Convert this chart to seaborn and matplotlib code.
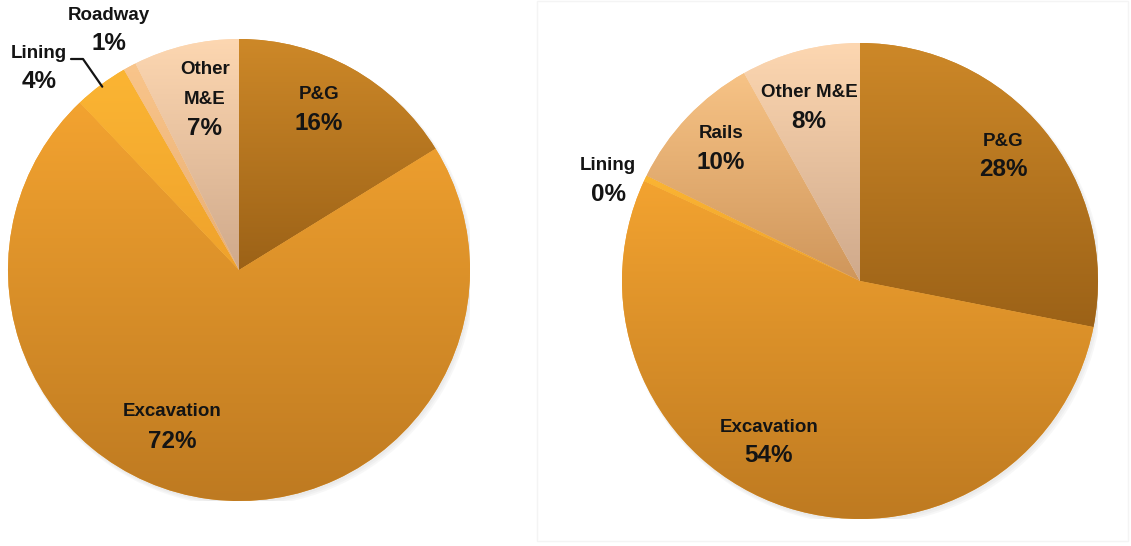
import numpy as np
import matplotlib
matplotlib.use("Agg")
import matplotlib.pyplot as plt
import seaborn as sns
from matplotlib.colors import LinearSegmentedColormap
from matplotlib.patches import Rectangle, Circle
from matplotlib.lines import Line2D

# ---- data -------------------------------------------------------------
left_categories = ["P&G", "Excavation", "Lining", "Roadway", "Other\nM&E"]
left_values = [16.2, 71.7, 3.8, 0.9, 7.4]

right_categories = ["P&G", "Excavation", "Lining", "Rails", "Other M&E"]
right_values = [28.1, 53.8, 0.4, 9.6, 8.1]

# ---- styling ----------------------------------------------------------
sns.set_theme(style="white")
plt.rcParams["font.family"] = ["Liberation Sans", "DejaVu Sans"]

W, H = 1131, 546
# per-slice vertical shading (top colour, bottom colour)
shades = {
    "P&G": ("#CD8828", "#9C6217"),
    "Excavation": ("#F3A330", "#BE7A21"),
    "Lining": ("#FBB533", "#EFA22C"),
    "Roadway": ("#F9C58B", "#E9AE72"),
    "Rails": ("#F7C386", "#CF965B"),
    "Other M&E": ("#FDD7B1", "#CFA98B"),
}
shades["Other\nM&E"] = shades["Other M&E"]

# label anchors in pixels (x centre, y of first line)
left_label_pos = [(319, 94), (172, 412), (39, 53), (109, 15), (205, 70)]
right_label_pos = [(1003, 141), (769, 427), (608, 165), (721, 133), (809, 92)]
LINE_STEP = 29

fig = plt.figure(figsize=(W / 100, H / 100), dpi=100)


def pie_axes(cx, cy, r):
    ax = fig.add_axes([(cx - r) / W, (H - cy - r) / H, 2 * r / W, 2 * r / H])
    return ax


def draw_pie(ax, values, names):
    # soft drop shadow beneath the disc
    for k, a in enumerate([0.05, 0.05, 0.06]):
        ax.add_patch(Circle((0.006 + 0.003 * k, -0.010 - 0.003 * k), 1.0 + 0.004 * k,
                            color="#808080", alpha=a, lw=0, zorder=0))
    palette = sns.color_palette([shades[n][0] for n in names])
    wedges, _ = ax.pie(values, colors=palette, startangle=90, counterclock=False,
                       radius=1.0, wedgeprops=dict(linewidth=0, edgecolor="none"))
    for w, n in zip(wedges, names):
        w.set_zorder(1)
        top, bot = shades[n]
        cmap = LinearSegmentedColormap.from_list("s", [top, bot])
        ext = w.get_path().get_extents()
        grad = np.linspace(0, 1, 256).reshape(-1, 1)
        im = ax.imshow(grad, cmap=cmap, origin="upper", aspect="auto",
                       extent=[ext.x0, ext.x1, ext.y0, ext.y1], zorder=2,
                       interpolation="bilinear")
        im.set_clip_path(w)
    ax.set_xlim(-1, 1)
    ax.set_ylim(-1, 1)
    ax.set_axis_off()
    return wedges


def draw_labels(names, values, positions):
    for n, v, (x, y) in zip(names, values, positions):
        lines = n.split("\n")
        for i, line in enumerate(lines):
            fig.text(x / W, 1 - (y + i * LINE_STEP) / H, line, ha="center", va="center",
                     fontsize=13.5, fontweight="bold", color="#141414")
        fig.text(x / W, 1 - (y + len(lines) * LINE_STEP) / H, f"{round(v):.0f}%",
                 ha="center", va="center", fontsize=17.5, fontweight="bold",
                 color="#141414")


# left pie
axL = pie_axes(239, 270, 231)
wl = draw_pie(axL, left_values, left_categories)
draw_labels(left_categories, left_values, left_label_pos)

# right pie
axR = pie_axes(860, 281, 238)
wr = draw_pie(axR, right_values, right_categories)
draw_labels(right_categories, right_values, right_label_pos)

# leader line from the "Lining" label to its slice on the left pie
lin = wl[2]
mid = np.deg2rad((lin.theta1 + lin.theta2) / 2)
edge = axL.transData.transform((0.99 * np.cos(mid), 0.99 * np.sin(mid)))
ex, ey = fig.transFigure.inverted().transform(edge)
fig.add_artist(Line2D([71 / W, 83 / W, ex], [1 - 59 / H, 1 - 59 / H, ey],
                      transform=fig.transFigure, color="#141414", lw=1.6))

# faint frame around the right chart area
fig.add_artist(Rectangle((537 / W, 1 - 541 / H), (1128 - 537) / W, 540 / H,
                         transform=fig.transFigure, fill=False,
                         edgecolor="#F4F4F4", lw=1.0))

fig.savefig("out.png", dpi=100, facecolor="white")
